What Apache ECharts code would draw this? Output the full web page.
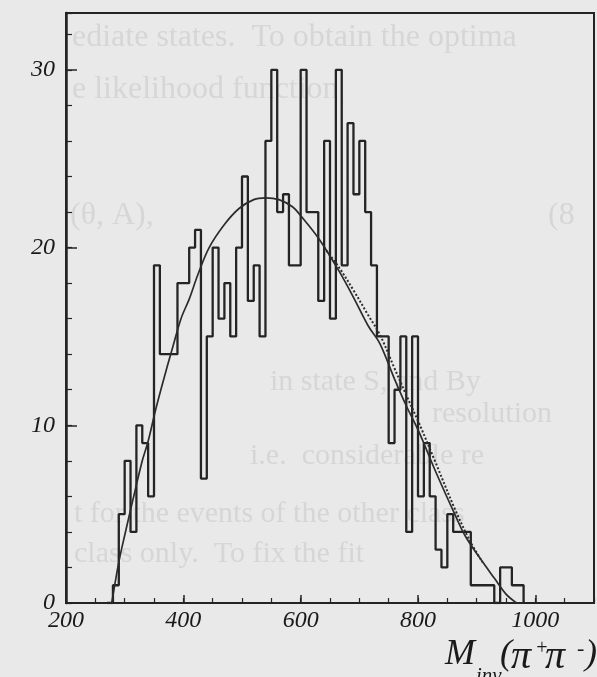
<!DOCTYPE html>
<html>
<head>
<meta charset="utf-8">
<script src="https://cdn.jsdelivr.net/npm/echarts@6/dist/echarts.min.js"></script>
<style>
  html, body { margin: 0; padding: 0; background: #e9e9e9; }
  #chart { width: 597px; height: 677px; }
</style>
</head>
<body>
<div id="chart"></div>
<script>
// Invariant-mass histogram: 10 MeV bins starting at 270 MeV
const binStart = 270;
const binWidth = 10;
const counts = [
  0, 1, 5, 8, 4, 10, 9, 6, 19, 14,
  14, 14, 18, 18, 20, 21, 7, 15, 20, 16,
  18, 15, 20, 24, 17, 19, 15, 26, 30, 22,
  23, 19, 19, 30, 22, 22, 17, 26, 16, 30,
  19, 27, 23, 26, 22, 19, 15, 15, 9, 12,
  15, 4, 15, 6, 9, 6, 3, 2, 5, 4,
  4, 4, 1, 1, 1, 1, 0, 2, 2, 1,
  1
];

// Fitted phase-space curve (solid)
const fitMass  = [278, 290, 300, 314, 330, 340, 353, 370, 382, 396, 410, 425, 444, 470, 495, 520, 540, 563, 586, 600, 631, 665, 690, 715, 735, 760, 780, 802, 830, 864, 880, 904, 930, 950, 968];
const fitValue = [0, 2.3, 3.8, 5.8, 8.0, 9.1, 10.9, 13.0, 14.4, 16.0, 17.1, 18.5, 20.0, 21.3, 22.2, 22.7, 22.8, 22.7, 22.3, 21.8, 20.5, 18.7, 17.2, 15.6, 14.6, 12.6, 11.1, 9.6, 7.4, 4.9, 3.8, 2.6, 1.4, 0.5, 0];

// Alternative fit on the high-mass side (dotted)
const altMass  = [640, 665, 690, 715, 735, 760, 780, 802, 830, 864, 890, 910];
const altValue = [20.0, 18.9, 17.6, 16.2, 15.1, 13.2, 11.7, 10.1, 7.9, 5.2, 3.4, 2.3];

// Axis ranges and labelled ticks
const xMin = 200, xMax = 1100;
const yMin = 0, yMax = 33.2;
const xTickLabels = [200, 400, 600, 800, 1000];
const yTickLabels = [0, 10, 20, 30];

const ink = '#242424';
const serif = 'Liberation Serif, DejaVu Serif, serif';

const histData = counts.map((c, i) => [binStart + i * binWidth, c]);
histData.push([binStart + counts.length * binWidth, 0]);
const fitData = fitMass.map((m, i) => [m, fitValue[i]]);
const altData = altMass.map((m, i) => [m, altValue[i]]);

const labelStyle = {
  fontFamily: serif, fontStyle: 'italic', fontSize: 24, color: '#1a1a1a'
};

const chart = echarts.init(document.getElementById('chart'), null, { renderer: 'canvas' });

// faint see-through text from the reverse side of the page
const ghostColor = '#d6d6d6';
const ghost = (text, x, y, size) => ({
  type: 'text', z: -10, silent: true,
  style: { text, x, y, font: `${size || 30}px ${serif}`, fill: ghostColor, textVerticalAlign: 'middle' }
});

const titlePart = (text, x, y, size) => ({
  type: 'text', z: 10,
  style: { text, x, y, font: `italic ${size}px ${serif}`, fill: '#1a1a1a', textVerticalAlign: 'middle' }
});

chart.setOption({
  backgroundColor: '#e9e9e9',
  animation: false,
  grid: { left: 66, right: 2, top: 13, bottom: 74, show: true, borderColor: ink, borderWidth: 2, backgroundColor: 'transparent' },
  xAxis: [
    {
      type: 'value', min: xMin, max: xMax, interval: 200,
      axisLine: { show: true, lineStyle: { color: ink, width: 2 } },
      axisTick: { show: true, inside: true, length: 8, lineStyle: { color: ink, width: 1.5 } },
      splitLine: { show: false },
      axisLabel: Object.assign({ margin: 6, formatter: v => xTickLabels.includes(v) ? String(v) : '' }, labelStyle)
    },
    {
      type: 'value', min: xMin, max: xMax, interval: 50, position: 'bottom', offset: 0,
      axisLine: { show: false },
      axisTick: { show: true, inside: true, length: 5, lineStyle: { color: ink, width: 1.2 } },
      splitLine: { show: false },
      axisLabel: { show: false }
    }
  ],
  yAxis: [
    {
      type: 'value', min: yMin, max: yMax, interval: 10,
      axisLine: { show: true, lineStyle: { color: ink, width: 2.5 } },
      axisTick: { show: true, inside: true, length: 11, lineStyle: { color: ink, width: 1.5 } },
      splitLine: { show: false },
      axisLabel: Object.assign({ margin: 11, formatter: v => yTickLabels.includes(v) ? String(v) : '' }, labelStyle)
    },
    {
      type: 'value', min: yMin, max: yMax, interval: 2, position: 'left', offset: 0,
      axisLine: { show: false },
      axisTick: { show: true, inside: true, length: 6, lineStyle: { color: ink, width: 1.2 } },
      splitLine: { show: false },
      axisLabel: { show: false }
    }
  ],
  graphic: [
    ghost('ediate states.  To obtain the optima', 72, 38, 32),
    ghost('e likelihood function', 72, 90, 32),
    ghost('(θ, A),', 70, 216, 32),
    ghost('(8', 548, 216, 32),
    ghost('in state S, and By', 270, 382, 30),
    ghost('resolution', 432, 414, 30),
    ghost('i.e.  considerable re', 250, 456, 30),
    ghost('t for the events of the other class', 74, 514, 30),
    ghost('class only.  To fix the fit', 74, 554, 30),
    titlePart('M', 445, 655, 36),
    titlePart('inv', 476, 676, 21),
    titlePart('(', 500, 655, 36),
    titlePart('π', 511, 657, 40),
    titlePart('+', 535, 649, 20),
    titlePart('π', 545, 657, 40),
    titlePart('-', 577, 649, 22),
    titlePart(')', 585, 655, 36)
  ],
  series: [
    {
      name: 'events', type: 'line', step: 'end', data: histData,
      xAxisIndex: 0, yAxisIndex: 0, symbol: 'none', z: 3,
      lineStyle: { color: ink, width: 2.3 }
    },
    {
      name: 'fit', type: 'line', smooth: 0.35, data: fitData,
      xAxisIndex: 0, yAxisIndex: 0, symbol: 'none', z: 4,
      lineStyle: { color: '#2c2c2c', width: 1.7 }
    },
    {
      name: 'alt fit', type: 'line', smooth: 0.35, data: altData,
      xAxisIndex: 0, yAxisIndex: 0, symbol: 'none', z: 4,
      lineStyle: { color: '#2c2c2c', width: 2, type: 'dotted' }
    }
  ]
});
</script>
</body>
</html>
